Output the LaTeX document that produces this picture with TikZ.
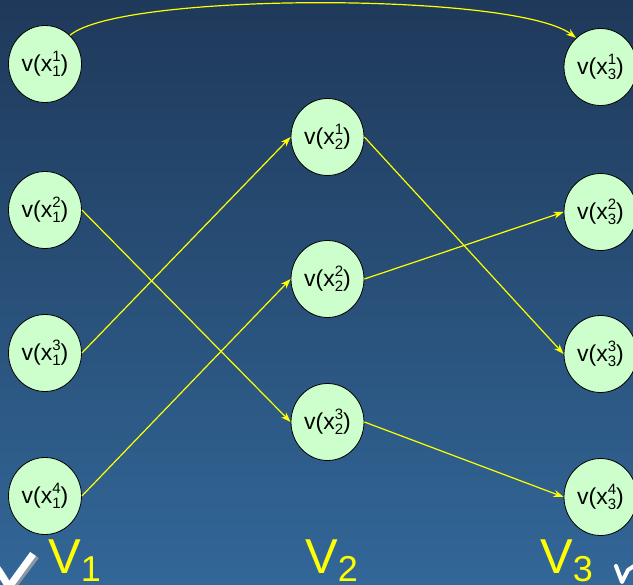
\documentclass[tikz,border=0pt]{standalone}
\usepackage{fontspec}
\setmainfont{Liberation Sans}
\usetikzlibrary{shapes.geometric,arrows.meta}
\definecolor{bgtop}{RGB}{31,57,90}
\definecolor{bgbot}{RGB}{50,103,152}
\definecolor{vnode}{RGB}{204,255,204}
\definecolor{edgeyel}{RGB}{255,255,0}
\definecolor{tickshadow}{RGB}{140,150,165}
% v(x^i_j) with the two indices stacked
\newcommand{\vx}[2]{v(x\rlap{\fontsize{15}{15}\selectfont\raisebox{9.5pt}{#1}}{\fontsize{15}{15}\selectfont\raisebox{-5pt}{#2}})}
\begin{document}
\begin{tikzpicture}[x=1pt,y=-1pt,
  vertex/.style={ellipse, draw=black, line width=0.8pt, fill=vnode,
    minimum width=73pt, minimum height=77pt, inner sep=0pt,
    font=\fontsize{23}{26}\selectfont},
  link/.style={draw=edgeyel, line width=1.2pt, -{Stealth[length=10pt,width=7pt]}},
  layer/.style={text=edgeyel, anchor=base west, inner sep=0pt,
    font=\fontsize{49}{50}\selectfont}]
\useasboundingbox (0,0) rectangle (633,585);
\shade[top color=bgtop, bottom color=bgbot] (0,0) rectangle (633,585);

% tick marks at the lower corners
\draw[tickshadow, line width=7pt, line join=miter] (-1,570) -- (11,589) -- (36,556);
\draw[white, line width=7pt, line join=miter] (-3,568) -- (9,587) -- (33,554);
\draw[white, line width=4pt, line cap=round, line join=round] (616,566) -- (622,582) -- (628,570) -- (634,566);

% layer 1
\node[vertex] (a1) at (45,64)  {\vx{1}{1}};
\node[vertex] (a2) at (45,210) {\vx{2}{1}};
\node[vertex] (a3) at (45,353) {\vx{3}{1}};
\node[vertex] (a4) at (45,496) {\vx{4}{1}};
% layer 2
\node[vertex] (b1) at (327.5,137) {\vx{1}{2}};
\node[vertex] (b2) at (327.5,279) {\vx{2}{2}};
\node[vertex] (b3) at (327.5,422) {\vx{3}{2}};
% layer 3
\node[vertex] (c1) at (600.5,67)  {\vx{1}{3}};
\node[vertex] (c2) at (600.5,212) {\vx{2}{3}};
\node[vertex] (c3) at (600.5,354) {\vx{3}{3}};
\node[vertex] (c4) at (600.5,497) {\vx{4}{3}};

% connections
\draw[link] (a1.49) .. controls (120,-8) and (515,-8) .. (c1.130);
\draw[link] (a3.east) -- (b1.west);
\draw[link] (a2.east) -- (b3.west);
\draw[link] (a4.east) -- (b2.west);
\draw[link] (b1.east) -- (c3.west);
\draw[link] (b2.east) -- (c2.west);
\draw[link] (b3.east) -- (c4.west);

% layer labels
\node[layer] (l1) at (48,574)  {V\fontsize{36}{36}\selectfont\raisebox{-8pt}{1}};
\node[layer] (l2) at (305,574) {V\fontsize{36}{36}\selectfont\raisebox{-8pt}{2}};
\node[layer] (l3) at (540,574) {V\fontsize{36}{36}\selectfont\raisebox{-8pt}{3}};
\end{tikzpicture}
\end{document}
